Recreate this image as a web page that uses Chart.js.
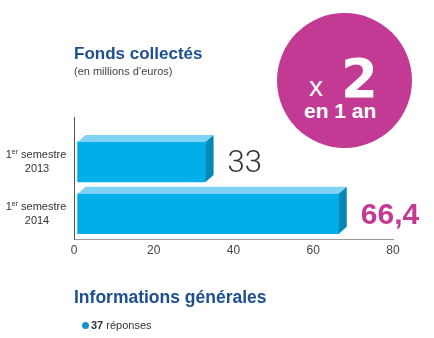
<!DOCTYPE html>
<html>
<head>
<meta charset="utf-8">
<script src="https://cdn.jsdelivr.net/npm/chart.js@4.4.0/dist/chart.umd.min.js"></script>
<style>
  body { margin: 0; background: #fff; font-family: "Liberation Sans", Arial, sans-serif; }
  #wrap { position: relative; width: 434px; height: 338px; overflow: hidden; }
  #chart { position: absolute; left: 0; top: 0; }
  .t { position: absolute; white-space: nowrap; line-height: 1; }
  .title { font-weight: bold; font-size: 17px; color: #1d4f91; }
  .sub { font-size: 11px; color: #444; }
  .badge { position: absolute; left: 277px; top: 13px; width: 135px; height: 135px; border-radius: 50%; background: #c23a94; }
  .w { color: #fff; }
  .dot { position: absolute; left: 82px; top: 322px; width: 7px; height: 7px; border-radius: 50%; background: #1b8fc9; }
</style>
</head>
<body>
<div id="wrap">
  <canvas id="chart" width="434" height="338"></canvas>

  <div class="t title" style="left:74px; top:45px;">Fonds collectés</div>
  <div class="t sub" style="left:74px; top:66px;">(en millions d’euros)</div>

  <div class="badge"></div>
  <div class="t w" style="left:309px; top:73px; font-size:28px;">x</div>
  <div class="t w" style="left:341px; top:52px; font-size:53px; font-weight:bold; font-family:'DejaVu Sans', sans-serif;">2</div>
  <div class="t w" style="left:304px; top:100px; font-size:21px; font-weight:bold;">en 1 an</div>

  <div class="t title" style="left:74px; top:289px; font-size:17.5px;">Informations générales</div>
  <div class="dot"></div>
  <div class="t sub" style="left:91px; top:320px; color:#333;"><b>37</b> réponses</div>
</div>

<script>
// data
const categories = [["1er semestre", "2013"], ["1er semestre", "2014"]];
const fonds = [33, 66.4];
const xTicks = [0, 20, 40, 60, 80];

const dx = 8, dy = 7;

// faces 3D, axe vertical, libellés et valeurs
const bar3d = {
  id: "bar3d",
  afterDatasetsDraw(chart) {
    const ctx = chart.ctx;
    const meta = chart.getDatasetMeta(0);
    ctx.save();
    meta.data.forEach((bar, i) => {
      const p = bar.getProps(["x", "y", "base", "height"], true);
      const top = p.y - p.height / 2;
      const bottom = p.y + p.height / 2;

      ctx.fillStyle = "#80d3f4";
      ctx.beginPath();
      ctx.moveTo(p.base, top);
      ctx.lineTo(p.base + dx, top - dy);
      ctx.lineTo(p.x + dx, top - dy);
      ctx.lineTo(p.x, top);
      ctx.closePath();
      ctx.fill();

      ctx.fillStyle = "#0089b6";
      ctx.beginPath();
      ctx.moveTo(p.x, top);
      ctx.lineTo(p.x + dx, top - dy);
      ctx.lineTo(p.x + dx, bottom - dy);
      ctx.lineTo(p.x, bottom);
      ctx.closePath();
      ctx.fill();

      // valeur
      const txt = String(fonds[i]).replace(".", ",");
      ctx.textAlign = "left";
      ctx.textBaseline = "alphabetic";
      if (i === 0) {
        ctx.font = "300 31px Roboto, 'Liberation Sans', sans-serif";
        ctx.fillStyle = "#333";
      } else {
        ctx.font = "bold 30px 'Liberation Sans', Arial, sans-serif";
        ctx.fillStyle = "#c23a94";
      }
      ctx.fillText(txt, p.x + dx + 14, p.y + 10);

      // libellé de catégorie
      const lines = categories[i];
      lines.forEach((line, k) => {
        const ly = p.y + (k === 0 ? -7 : 7);
        const m = line.match(/^(\d+)(er)(.*)$/);
        ctx.fillStyle = "#333";
        ctx.textBaseline = "middle";
        if (m) {
          ctx.font = "11px 'Liberation Sans', Arial, sans-serif";
          const w1 = ctx.measureText(m[1]).width;
          const w3 = ctx.measureText(m[3]).width;
          ctx.font = "7px 'Liberation Sans', Arial, sans-serif";
          const w2 = ctx.measureText(m[2]).width;
          let x = 36 - (w1 + w2 + w3) / 2;
          ctx.textAlign = "left";
          ctx.font = "11px 'Liberation Sans', Arial, sans-serif";
          ctx.fillText(m[1], x, ly);
          ctx.font = "7px 'Liberation Sans', Arial, sans-serif";
          ctx.fillText(m[2], x + w1, ly - 3);
          ctx.font = "11px 'Liberation Sans', Arial, sans-serif";
          ctx.fillText(m[3], x + w1 + w2, ly);
        } else {
          ctx.font = "11px 'Liberation Sans', Arial, sans-serif";
          ctx.textAlign = "center";
          ctx.fillText(line, 37, ly);
        }
      });
    });

    // axe vertical
    const a = chart.chartArea;
    ctx.strokeStyle = "#555";
    ctx.lineWidth = 1;
    ctx.beginPath();
    ctx.moveTo(Math.round(a.left) + 0.5, 117);
    ctx.lineTo(Math.round(a.left) + 0.5, a.bottom);
    ctx.stroke();
    ctx.restore();
  }
};

new Chart(document.getElementById("chart"), {
  type: "bar",
  data: {
    labels: categories,
    datasets: [{
      data: fonds,
      backgroundColor: "#00aee8",
      barThickness: 40,
      base: 0.9
    }]
  },
  options: {
    indexAxis: "y",
    responsive: false,
    animation: false,
    devicePixelRatio: 1,
    layout: { padding: { left: 74, right: 41, top: 136, bottom: 76 } },
    scales: {
      x: {
        min: xTicks[0],
        max: xTicks[xTicks.length - 1],
        afterBuildTicks: (s) => { s.ticks = xTicks.map(v => ({ value: v })); },
        grid: { display: false, drawTicks: false },
        border: { display: true, color: "#999", width: 1 },
        ticks: { color: "#444", font: { size: 12, family: "'Liberation Sans', Arial, sans-serif" }, padding: 4 }
      },
      y: { display: false }
    },
    plugins: {
      legend: { display: false },
      tooltip: { enabled: false }
    }
  },
  plugins: [bar3d]
});
</script>
</body>
</html>
